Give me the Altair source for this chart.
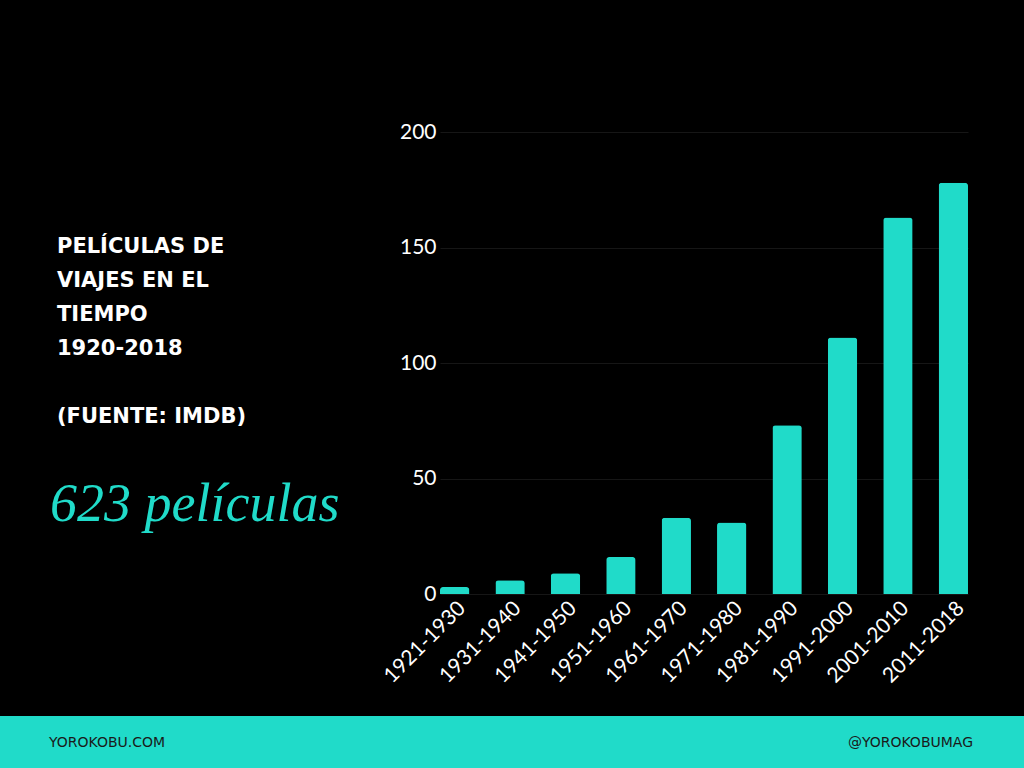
import altair as alt
import pandas as pd

decades = ["1921-1930", "1931-1940", "1941-1950", "1951-1960", "1961-1970",
           "1971-1980", "1981-1990", "1991-2000", "2001-2010", "2011-2018"]
counts = [3, 6, 9, 16, 33, 31, 73, 111, 163, 178]

title_lines = ["PELÍCULAS DE", "VIAJES EN EL", "TIEMPO", "1920-2018", "", "(FUENTE: IMDB)"]
big_text = "623 películas"
footer_left = "YOROKOBU.COM"
footer_right = "@YOROKOBUMAG"

TEAL = "#20dbc9"
W, H = 528, 462
LEFT, TOP = 440, 132

df = pd.DataFrame({"decada": decades, "peliculas": counts})

bars = alt.Chart(df).mark_bar(color=TEAL, cornerRadiusTopLeft=3, cornerRadiusTopRight=3).encode(
    x=alt.X("decada:N", sort=decades, title=None,
            scale=alt.Scale(paddingInner=0.47, paddingOuter=0),
            axis=alt.Axis(labelAngle=-45, labelColor="#ffffff", labelFontSize=21,
                          labelFont="Lato", domain=False, ticks=False, labelPadding=3)),
    y=alt.Y("peliculas:Q", title=None, scale=alt.Scale(domain=[0, 200]),
            axis=alt.Axis(values=[0, 50, 100, 150, 200], labelColor="#ffffff", labelFontSize=21,
                          labelFont="Lato", domain=False, ticks=False, labelPadding=4,
                          grid=True, gridColor="#161616", gridWidth=1)),
)

tl = pd.DataFrame({"t": title_lines, "i": list(range(len(title_lines)))})
title_df = tl[tl["t"] != ""]
title = alt.Chart(title_df).mark_text(
    align="left", baseline="middle", font="DejaVu Sans", fontWeight="bold", fontSize=21,
    color="#ffffff"
).encode(
    text="t:N",
    x=alt.value(57 - LEFT),
    y=alt.Y("i:Q", scale=alt.Scale(domain=[0, 5], range=[247 - TOP, 417 - TOP]), axis=None),
)

big = alt.Chart(pd.DataFrame({"t": [big_text]})).mark_text(
    align="left", baseline="middle", font="Liberation Serif", fontStyle="italic",
    fontSize=54, color=TEAL
).encode(text="t:N", x=alt.value(50 - LEFT), y=alt.value(505 - TOP))

footer = alt.Chart(pd.DataFrame({"a": [0]})).mark_rect(color=TEAL).encode(
    x=alt.value(-LEFT), x2=alt.value(1024 - LEFT),
    y=alt.value(716 - TOP), y2=alt.value(768 - TOP)
)

fl = alt.Chart(pd.DataFrame({"t": [footer_left]})).mark_text(
    align="left", baseline="middle", font="DejaVu Sans", fontSize=14, color="#1a1a1a"
).encode(text="t:N", x=alt.value(49 - LEFT), y=alt.value(743 - TOP))

fr = alt.Chart(pd.DataFrame({"t": [footer_right]})).mark_text(
    align="right", baseline="middle", font="DejaVu Sans", fontSize=14, color="#1a1a1a"
).encode(text="t:N", x=alt.value(973 - LEFT), y=alt.value(743 - TOP))

chart = alt.layer(footer, bars, title, big, fl, fr).resolve_scale(y="independent").properties(
    width=W, height=H,
    autosize=alt.AutoSizeParams(type="none"),
    padding={"left": LEFT, "top": TOP, "right": 1024 - LEFT - W, "bottom": 768 - TOP - H},
    background="#000000",
).configure_view(stroke=None)

chart.save("out.html", embed_options={"renderer": "svg", "actions": False})
